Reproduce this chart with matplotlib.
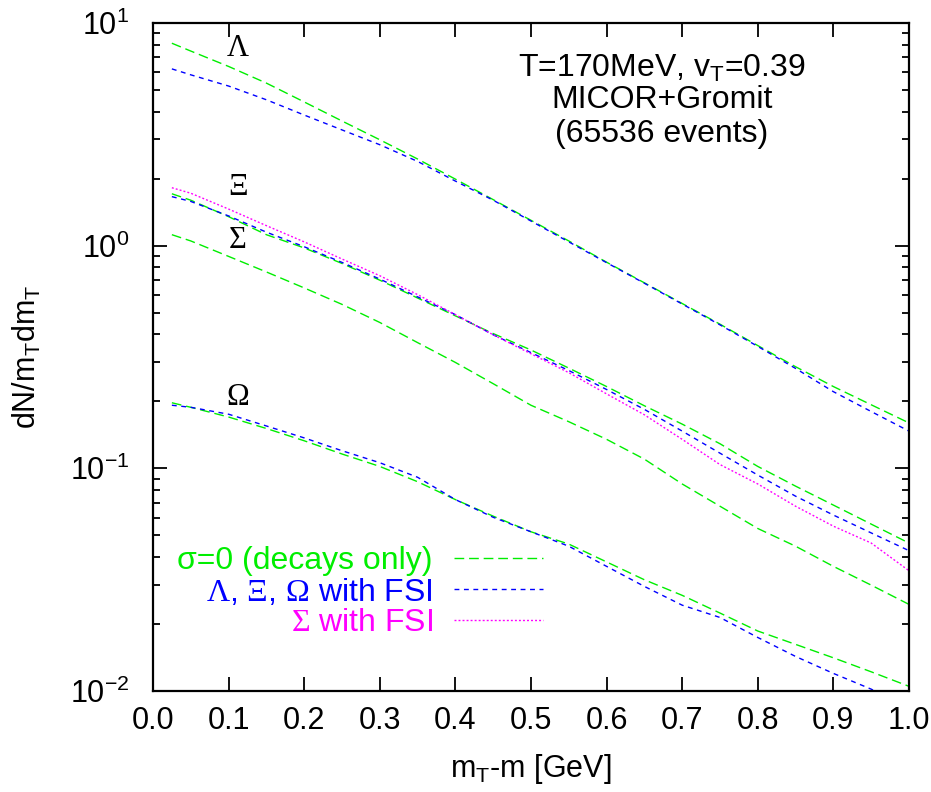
import numpy as np
import matplotlib
matplotlib.use("Agg")
import matplotlib.pyplot as plt
from matplotlib.ticker import LogLocator, FixedLocator, FormatStrFormatter

plt.rcParams['font.family'] = ['Liberation Sans', 'DejaVu Sans']
plt.rcParams['mathtext.fontset'] = 'custom'
plt.rcParams['mathtext.rm'] = 'Liberation Sans'
plt.rcParams['mathtext.sf'] = 'Liberation Serif'

# m_T - m [GeV]
mt = [0.025, 0.05, 0.10, 0.15, 0.20, 0.25, 0.30, 0.35, 0.40, 0.45, 0.50,
      0.55, 0.60, 0.65, 0.70, 0.75, 0.80, 0.85, 0.90, 0.95, 1.00]

# sigma=0 (decays only)
lam_dec = [8.11, 7.48, 6.38, 5.37, 4.42, 3.63, 2.99, 2.45, 1.99, 1.61, 1.30,
           1.05, 0.843, 0.681, 0.550, 0.444, 0.356, 0.286, 0.233, 0.193, 0.160]
xi_dec = [1.71, 1.60, 1.35, 1.12, 0.977, 0.832, 0.700, 0.582, 0.484, 0.403, 0.340,
          0.282, 0.233, 0.191, 0.158, 0.129, 0.102, 0.0832, 0.0684, 0.0562, 0.0462]
sig_dec = [1.12, 1.05, 0.895, 0.762, 0.646, 0.545, 0.452, 0.367, 0.299, 0.240, 0.192,
           0.162, 0.135, 0.110, 0.0851, 0.0676, 0.0537, 0.0447, 0.0363, 0.0299, 0.0245]
om_dec = [0.197, 0.188, 0.170, 0.151, 0.133, 0.116, 0.102, 0.0871, 0.0724, 0.0610, 0.0519,
          0.0457, 0.0380, 0.0316, 0.0269, 0.0224, 0.0186, 0.0162, 0.0141, 0.0122, 0.0105]

# with FSI
lam_fsi = [6.22, 5.85, 5.21, 4.52, 3.86, 3.31, 2.84, 2.39, 1.95, 1.60, 1.29,
           1.04, 0.839, 0.678, 0.547, 0.441, 0.353, 0.281, 0.221, 0.180, 0.147]
xi_fsi = [1.66, 1.58, 1.36, 1.15, 0.989, 0.841, 0.708, 0.589, 0.490, 0.398, 0.331,
          0.275, 0.226, 0.184, 0.147, 0.117, 0.0933, 0.0750, 0.0617, 0.0513, 0.0427]
om_fsi = [0.192, 0.188, 0.175, 0.155, 0.137, 0.120, 0.106, 0.0912, 0.0724, 0.0603, 0.0519,
          0.0447, 0.0363, 0.0295, 0.0243, 0.0214, 0.0174, 0.0143, 0.0120, 0.0102, 0.0083]
sig_fsi = [1.82, 1.72, 1.46, 1.23, 1.04, 0.871, 0.733, 0.603, 0.490, 0.398, 0.327,
           0.269, 0.216, 0.174, 0.135, 0.104, 0.0851, 0.0676, 0.0550, 0.0462, 0.0347]

green = '#00ee00'
blue = '#0000ff'
magenta = '#ff00ff'
dash_dec = (0, (7, 3.5))
dash_fsi = (0, (3.5, 3.3))
dot_sig = (0, (1.4, 1.5))

fig = plt.figure(figsize=(9.31, 7.92), dpi=100)
ax = fig.add_axes([0.1643, 0.1275, 0.812, 0.8435])

lw = 1.0
ax.plot(mt, lam_dec, color=green, lw=lw, ls=dash_dec, label='σ=0 (decays only)')
ax.plot(mt, xi_dec, color=green, lw=lw, ls=dash_dec)
ax.plot(mt, sig_dec, color=green, lw=lw, ls=dash_dec)
ax.plot(mt, om_dec, color=green, lw=lw, ls=dash_dec)
ax.plot(mt, lam_fsi, color=blue, lw=lw, ls=dash_fsi,
        label=r'$\mathsf{\Lambda}$, $\mathsf{\Xi}$, $\mathsf{\Omega}$ with FSI')
ax.plot(mt, xi_fsi, color=blue, lw=lw, ls=dash_fsi)
ax.plot(mt, om_fsi, color=blue, lw=lw, ls=dash_fsi)
ax.plot(mt, sig_fsi, color=magenta, lw=lw, ls=dot_sig,
        label=r'$\mathsf{\Sigma}$ with FSI')

ax.set_xlim(0, 1)
ax.set_yscale('log')
ax.set_ylim(0.01, 10)

ax.xaxis.set_major_locator(FixedLocator(np.arange(0, 1.01, 0.1)))
ax.xaxis.set_major_formatter(FormatStrFormatter('%.1f'))
ax.yaxis.set_major_locator(LogLocator(base=10))
ax.yaxis.set_minor_locator(LogLocator(base=10, subs=np.arange(2, 10)))
ax.yaxis.set_minor_formatter(plt.NullFormatter())

ax.tick_params(which='both', direction='in', top=True, right=True, labelsize=22)
ax.tick_params(which='major', length=10, width=1.3)
ax.tick_params(which='minor', length=5, width=1.3)
ax.tick_params(axis='x', pad=11)
ax.tick_params(axis='y', pad=17)
for s in ax.spines.values():
    s.set_linewidth(1.6)

ax.set_xlabel(r'$\mathrm{m_T}$-m [GeV]', fontsize=22, labelpad=11)
ax.set_ylabel(r'$\mathrm{dN/m_Tdm_T}$', fontsize=22)
ax.yaxis.set_label_coords(-0.145, 0.5)

# particle labels
serif = ['Liberation Serif', 'DejaVu Serif']
ax.text(0.112, 7.67, 'Λ', family=serif, fontsize=22, ha='center', va='center')
ax.text(0.112, 1.82, 'Ξ', family=serif, fontsize=22, ha='center', va='center')
ax.text(0.112, 1.06, 'Σ', family=serif, fontsize=22, ha='center', va='center')
ax.text(0.112, 0.207, 'Ω', family=serif, fontsize=22, ha='center', va='center')

ax.text(0.673, 6.25, r'T=170MeV, $\mathrm{v_T}$=0.39', fontsize=23, ha='center', va='center')
ax.text(0.673, 4.51, 'MICOR+Gromit', fontsize=23, ha='center', va='center')
ax.text(0.673, 3.18, '(65536 events)', fontsize=23, ha='center', va='center')

leg = ax.legend(loc='center right', bbox_to_anchor=(0.537, 0.148), frameon=False,
                markerfirst=False, fontsize=23, handlelength=2.8,
                handletextpad=0.65, labelspacing=0.02, borderpad=0)
for t, c in zip(leg.get_texts(), [green, blue, magenta]):
    t.set_color(c)

fig.savefig('out.png', dpi=100)
